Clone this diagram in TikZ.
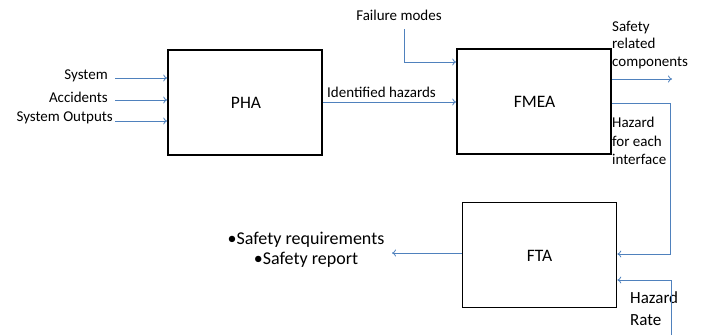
\documentclass[tikz,border=0pt]{standalone}
\usepackage{fontspec}
\setmainfont{Carlito}
\usetikzlibrary{arrows.meta}
\definecolor{conn}{HTML}{4F81BD}
\begin{document}
\begin{tikzpicture}[x=1pt,y=-1pt,
  blockbox/.style={draw=black,line width=1.6pt,minimum width=154pt,minimum height=105pt,inner sep=0pt,font=\fontsize{17.5}{20}\selectfont},
  flow/.style={draw=conn,line width=0.8pt,-{To[length=4pt,width=7pt]}},
  lbl/.style={font=\fontsize{15}{17}\selectfont,inner sep=0pt,text=black},
  biglbl/.style={font=\fontsize{18}{20}\selectfont,inner sep=0pt,align=center}]
\useasboundingbox (0,0) rectangle (709,335);
\node[blockbox] (pha) at (245,102.5) {};
\node[font=\fontsize{17.5}{20}\selectfont] (phal) at (246,102.5) {PHA};
\node[blockbox] (fmea) at (534,101.5) {};
\node[font=\fontsize{17.5}{20}\selectfont] (fmeal) at (534.5,102) {FMEA};
\node[blockbox] (fta) at (539.5,255) {};
\node[font=\fontsize{17.5}{20}\selectfont] (ftal) at (539.5,256) {FTA};
% inputs to PHA
\node[lbl,anchor=east] (sys) at (108,76) {System};
\node[lbl,anchor=east] (acc) at (108,97) {Accidents};
\node[lbl,anchor=east] (out) at (113,118) {System Outputs};
\coordinate (s1) at (115,78);
\coordinate (s2) at (115,100);
\coordinate (s3) at (115,121);
\draw[flow] (s1) -- (s1 -| pha.west);
\draw[flow] (s2) -- (s2 -| pha.west);
\draw[flow] (s3) -- (s3 -| pha.west);
% identified hazards
\coordinate (ih) at (pha.east |- 0,102);
\draw[flow] (ih) -- (ih -| fmea.west);
\node[lbl,anchor=west] (ihl) at (327,92) {Identified hazards};
% failure modes
\node[lbl] (fm) at (399,15) {Failure modes};
\coordinate (fm1) at (404,29);
\draw[flow] (fm1) |- (fmea.west |- 0,62);
% safety related components
\begin{scope}
\clip (600,0) rectangle (688.5,80);
\node[lbl,anchor=north west,align=left,font=\fontsize{15}{17.5}\selectfont] (src) at (612,21) {Safety\\related\\components};
\end{scope}
\coordinate (srcE) at (672,79);
\draw[flow] (fmea.east |- srcE) -- (srcE);
% hazard for each interface
\node[lbl,anchor=north west,align=left,font=\fontsize{15}{18.5}\selectfont] (hfe) at (612,117) {Hazard\\for each\\interface};
\coordinate (c1) at (670,103);
\coordinate (c2) at (670,254);
\draw[flow] (fmea.east |- c1) -- (c1) -- (c2) -- (c2 -| fta.east);
% hazard rate
\node[lbl,anchor=north west,align=left,font=\fontsize{17}{22}\selectfont] (hr) at (630,291) {Hazard\\Rate};
\coordinate (r0) at (671,335);
\coordinate (r1) at (671,280);
\draw[flow] (r0) -- (r1) -- (r1 -| fta.east);
% outputs
\node[biglbl] (so) at (306,250) {\textbullet Safety requirements\\\textbullet Safety report};
\coordinate (soE) at (392,253);
\draw[flow] (fta.west |- soE) -- (soE);
\end{tikzpicture}
\end{document}
